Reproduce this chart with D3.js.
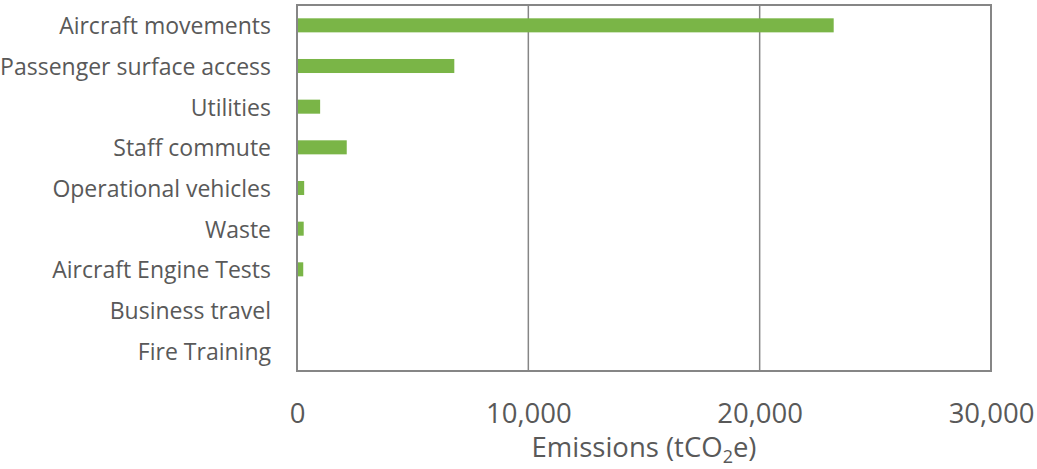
<!DOCTYPE html>
<html>
<head>
<meta charset="utf-8">
<script src="https://cdn.jsdelivr.net/npm/d3@7"></script>
<style>
  html, body { margin: 0; padding: 0; background: #fff; }
  svg { display: block; }
  text { font-family: "Open Sans", Lato, sans-serif; fill: #595959; }
</style>
</head>
<body>
<svg id="chart" width="1037" height="469"></svg>
<script>
// Emission sources, top to bottom
const categories = [
  "Aircraft movements",
  "Passenger surface access",
  "Utilities",
  "Staff commute",
  "Operational vehicles",
  "Waste",
  "Aircraft Engine Tests",
  "Business travel",
  "Fire Training"
];
// Emissions per source (tCO2e)
const emissions = [23200, 6800, 1000, 2150, 310, 290, 270, 10, 3];
const xTicks = [0, 10000, 20000, 30000];

const svg = d3.select("#chart");
const plot = { left: 297, right: 991, top: 5, bottom: 371 };

const x = d3.scaleLinear().domain([0, 30000]).range([plot.left, plot.right]);
const y = d3.scaleBand().domain(categories).range([plot.top, plot.bottom]).paddingInner(0.655).paddingOuter(0.3275);

// vertical gridlines
svg.append("g")
  .selectAll("line")
  .data(xTicks.slice(1, -1))
  .join("line")
  .attr("x1", d => x(d)).attr("x2", d => x(d))
  .attr("y1", plot.top).attr("y2", plot.bottom)
  .attr("stroke", "#868686").attr("stroke-width", 1.5);

// bars
svg.append("g")
  .selectAll("rect")
  .data(categories.map((c, i) => ({ c, v: emissions[i] })))
  .join("rect")
  .attr("x", x(0))
  .attr("y", d => y(d.c))
  .attr("width", d => x(d.v) - x(0))
  .attr("height", y.bandwidth())
  .attr("fill", "#7AB547");

// plot frame
svg.append("rect")
  .attr("x", plot.left).attr("y", plot.top)
  .attr("width", plot.right - plot.left).attr("height", plot.bottom - plot.top)
  .attr("fill", "none").attr("stroke", "#868686").attr("stroke-width", 2);

// category labels
const yAxis = d3.axisLeft(y).tickSize(0).tickPadding(26);
const gy = svg.append("g").attr("transform", `translate(${plot.left},1.5)`).call(yAxis);
gy.select(".domain").remove();
gy.selectAll("text").style("font-size", "23px").attr("fill", "#595959").attr("font-family", null);

// value axis labels
const xAxis = d3.axisBottom(x).tickValues(xTicks).tickSize(0).tickPadding(32).tickFormat(d3.format(","));
const gx = svg.append("g").attr("transform", `translate(0,${plot.bottom})`).call(xAxis);
gx.select(".domain").remove();
gx.selectAll("text").style("font-size", "27.5px").attr("fill", "#595959").attr("font-family", null);

// axis title
const title = svg.append("text")
  .attr("x", (plot.left + plot.right) / 2)
  .attr("y", 457)
  .attr("text-anchor", "middle")
  .style("font-size", "27.5px");
title.append("tspan").text("Emissions (tCO");
title.append("tspan").attr("baseline-shift", "-35%").style("font-size", "18px").text("2");
title.append("tspan").text("e)");
</script>
</body>
</html>
